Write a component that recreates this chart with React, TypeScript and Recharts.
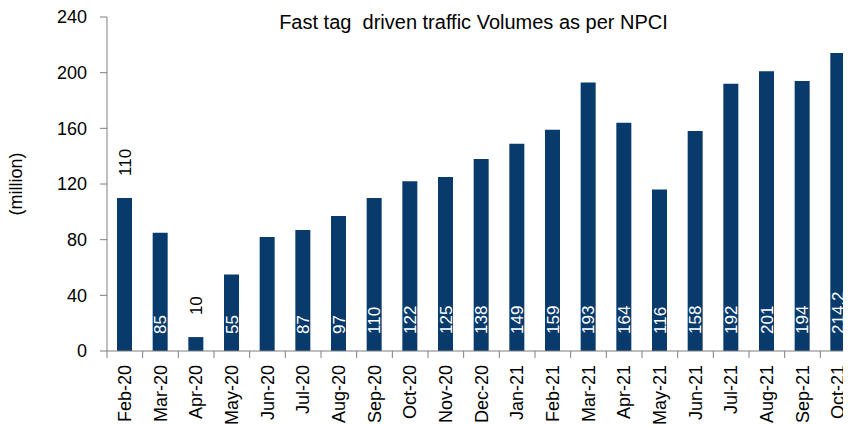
import React from 'react';
import { BarChart, Bar, XAxis, YAxis, LabelList } from 'recharts';

const months = ['Feb-20','Mar-20','Apr-20','May-20','Jun-20','Jul-20','Aug-20','Sep-20','Oct-20','Nov-20','Dec-20','Jan-21','Feb-21','Mar-21','Apr-21','May-21','Jun-21','Jul-21','Aug-21','Sep-21','Oct-21'];
const volumes = [110,85,10,55,82,87,97,110,122,125,138,149,159,193,164,116,158,192,201,194,214.2];
const valueLabels = ['110','85','10','55','','87','97','110','122','125','138','149','159','193','164','116','158','192','201','194','214.2'];
const labelPlacement = ['above','inside','above','inside','none','inside','inside','inside','inside','inside','inside','inside','inside','inside','inside','inside','inside','inside','inside','inside','inside'];
const yTicks = [0,40,80,120,160,200,240];

const data = months.map((m, i) => ({ month: m, value: volumes[i], label: valueLabels[i], place: labelPlacement[i] }));

const FONT = '"Liberation Sans", Arial, sans-serif';
const W = 860;
const H = 425;
const LEFT = 107;
const RIGHT_M = 4;
const BW = (W - LEFT - RIGHT_M) / months.length;

const XTick = (props: any) => {
  const { x, y, payload } = props;
  const axisY = y - 14;
  return (
    <g>
      <line x1={x - BW / 2} y1={axisY} x2={x - BW / 2} y2={axisY + 7} stroke="#7f7f7f" strokeWidth={1} />
      <text x={x} y={y} transform={`rotate(-90, ${x}, ${y})`} textAnchor="end" dy="0.35em" fontSize={18} fontFamily={FONT} fill="#000">
        {payload.value}
      </text>
    </g>
  );
};

const BarLabel = (props: any) => {
  const { x, y, width, height, index } = props;
  const d = data[index];
  if (!d || d.place === 'none') return null;
  const cx = x + width / 2;
  const bottom = y + height;
  let ty: number;
  let fill: string;
  if (d.place === 'above') {
    ty = y - 22;
    fill = '#000';
  } else {
    ty = bottom - 17;
    fill = '#fff';
  }
  return (
    <text x={cx} y={ty} transform={`rotate(-90, ${cx}, ${ty})`} textAnchor="start" dy="0.36em" fontSize={17} fontFamily={FONT} fill={fill}>
      {d.label}
    </text>
  );
};

export default function App() {
  return (
    <div style={{ margin: '-8px 0 0 -8px', width: W, height: H, position: 'relative', background: '#fff' }}>
      <BarChart width={W} height={H} data={data} margin={{ top: 17, right: RIGHT_M, bottom: 0, left: 0 }}>
        <text x={473.5} y={29} textAnchor="middle" fontSize={20} fontFamily={FONT} fill="#000" style={{ whiteSpace: 'pre' }}>
          {'Fast tag  driven traffic Volumes as per NPCI'}
        </text>
        <text x={16} y={184} transform="rotate(-90, 16, 184)" textAnchor="middle" dy="0.35em" fontSize={18} fontFamily={FONT} fill="#000">
          (million)
        </text>
        <XAxis
          dataKey="month"
          interval={0}
          height={74}
          tickSize={7}
          tickMargin={7}
          tickLine={false}
          axisLine={{ stroke: '#7f7f7f' }}
          tick={<XTick />}
        />
        <YAxis
          width={LEFT}
          domain={[0, 240]}
          ticks={yTicks}
          interval={0}
          tickSize={7}
          tickMargin={13}
          axisLine={{ stroke: '#7f7f7f' }}
          tickLine={{ stroke: '#7f7f7f' }}
          tick={{ fontSize: 18, fontFamily: FONT, fill: '#000' }}
        />
        <Bar dataKey="value" fill="#083a6b" barSize={15} isAnimationActive={false}>
          <LabelList dataKey="label" content={<BarLabel />} />
        </Bar>
      </BarChart>
    </div>
  );
}
